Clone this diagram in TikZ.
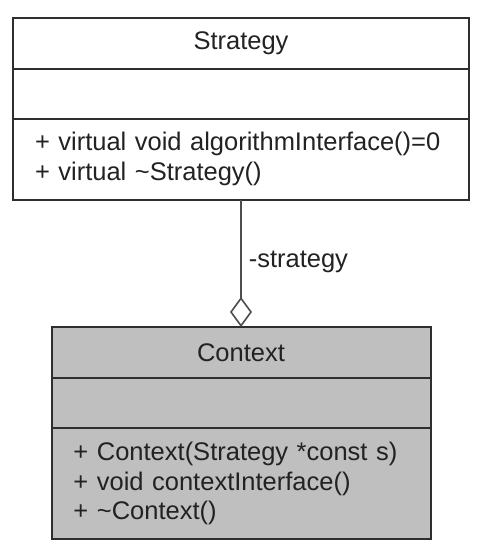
\documentclass[tikz,border=0pt]{standalone}
\usepackage{fontspec}
\setmainfont{Liberation Sans}
\usepackage{xcolor}
\usepackage{tikz}
\usetikzlibrary{arrows.meta, positioning}

\definecolor{umlgray}{HTML}{BFBFBF}
\definecolor{umlline}{HTML}{2E2E2E}
\definecolor{umltext}{HTML}{222222}

\begin{document}
\begin{tikzpicture}[
            x=1pt, y=-1pt,
            every node/.style={font=\fontsize{25.5}{29.5}\selectfont, text=umltext},
            compart/.style={rectangle, draw=umlline, line width=2pt, outer sep=0pt, inner sep=0pt},
            header/.style={compart},
            methods/.style={compart, align=left, inner xsep=22pt},
            assoc/.style={draw=umlline!85, line width=1.6pt},
            role/.style={inner sep=4pt}
        ]
        \useasboundingbox (0,0) rectangle (482,558);

        % Strategy class
        \node[header, minimum width=456pt, minimum height=51.5pt] (stitle) at (241, 43.25) {Strategy};
        \node[compart, minimum width=456pt, minimum height=49.5pt, below=0pt of stitle] (sattr) {};
        \node[methods, text width=412pt, minimum height=81pt, below=0pt of sattr] (sops)
            {+ virtual void algorithmInterface()=0\\+ virtual \textasciitilde Strategy()};

        % Context class
        \node[header, fill=umlgray, minimum width=379pt, minimum height=51pt, below=127.5pt of sops] (ctitle) {Context};
        \node[compart, fill=umlgray, minimum width=379pt, minimum height=50pt, below=0pt of ctitle] (cattr) {};
        \node[methods, fill=umlgray, text width=335pt, minimum height=111pt, below=0pt of cattr] (cops)
            {+ Context(Strategy *const s)\\+ void contextInterface()\\+ \textasciitilde Context()};

        % Aggregation
        \draw[assoc, -{Diamond[open, length=30pt, width=22pt]}] (sops) -- node[role, right=3pt, pos=0.49] {-strategy} (ctitle);

    \end{tikzpicture}
\end{document}
